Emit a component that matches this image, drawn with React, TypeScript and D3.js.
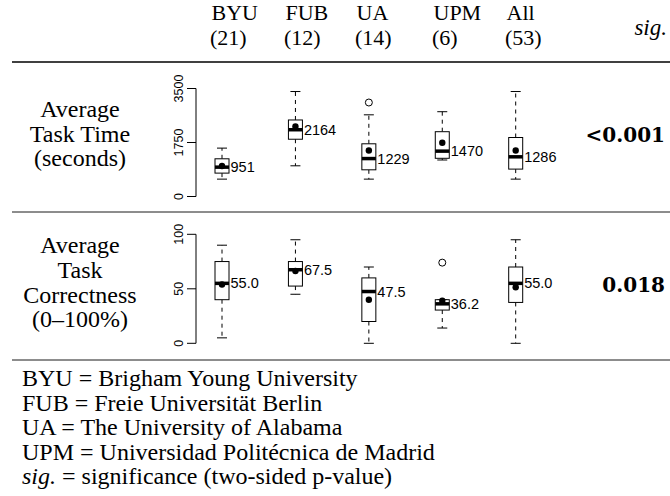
import React, { useEffect } from "react";
import * as d3 from "d3";

// Sites and sample sizes
const sites = ["BYU", "FUB", "UA", "UPM", "All"];
const siteCounts = ["(21)", "(12)", "(14)", "(6)", "(53)"];

// Average task time (seconds): five-number summaries, means, outliers
const timeLow = [563, 995, 563, 1183, 563];
const timeQ1 = [758, 1856, 865, 1238, 888];
const timeMedian = [951, 2164, 1229, 1470, 1286];
const timeQ3 = [1222, 2480, 1708, 2100, 1912];
const timeHigh = [1568, 3402, 2647, 2748, 3402];
const timeMean = [990, 2268, 1490, 1743, 1490];
const timeOutliers = [[], [], [3046], [], []];
const timeTicks = [0, 1750, 3500];
const timeSig = "<0.001";

// Average task correctness (0-100%)
const corrLow = [5, 45, 0, 14, 0];
const corrQ1 = [40, 52.5, 20, 30.5, 37.5];
const corrMedian = [55.0, 67.5, 47.5, 36.2, 55.0];
const corrQ3 = [75, 75, 60, 40, 70];
const corrHigh = [90, 95, 70, 40, 95];
const corrMean = [54, 66.3, 40, 39, 51.4];
const corrOutliers = [[], [], [], [74], []];
const corrTicks = [0, 50, 100];
const corrSig = "0.018";

const legendLines = [
  "BYU = Brigham Young University",
  "FUB = Freie Universität Berlin",
  "UA = The University of Alabama",
  "UPM = Universidad Politécnica de Madrid",
];

const W = 670;
const H = 496;
const SERIF = "'Liberation Serif', 'Times New Roman', serif";
const SANS = "'Liberation Sans', Arial, Helvetica, sans-serif";

const headerX = [210, 284, 355, 432, 505];
const axisX = 196;

const x = d3.scalePoint<string>().domain(sites).range([222, 515.7]);
const yTime = d3.scaleLinear().domain([0, 3500]).range([196.5, 88.5]);
const yCorr = d3.scaleLinear().domain([0, 100]).range([343.3, 234.3]);

type Panel = {
  y: d3.ScaleLinear<number, number>;
  low: number[];
  q1: number[];
  med: number[];
  q3: number[];
  high: number[];
  mean: number[];
  out: number[][];
  ticks: number[];
  fmt: (n: number) => string;
};

function Axis({ y, ticks }: { y: d3.ScaleLinear<number, number>; ticks: number[] }) {
  const [lo, hi] = d3.extent(ticks) as [number, number];
  return (
    <g>
      <line x1={axisX} x2={axisX} y1={y(lo)} y2={y(hi)} stroke="#000" strokeWidth={1} />
      {ticks.map((t) => (
        <g key={t}>
          <line x1={axisX - 9} x2={axisX} y1={y(t)} y2={y(t)} stroke="#000" strokeWidth={1} />
          <text
            transform={`translate(${axisX - 13},${y(t)}) rotate(-90)`}
            textAnchor="middle"
            fontFamily={SANS}
            fontSize={12.5}
          >
            {t}
          </text>
        </g>
      ))}
    </g>
  );
}

function Boxes({ p }: { p: Panel }) {
  const hw = 7;
  const cap = 5;
  return (
    <g>
      {sites.map((s, i) => {
        const cx = x(s) as number;
        const { y } = p;
        return (
          <g key={s}>
            <line x1={cx} x2={cx} y1={y(p.q3[i])} y2={y(p.high[i])} stroke="#000" strokeDasharray="4 4" />
            <line x1={cx} x2={cx} y1={y(p.q1[i])} y2={y(p.low[i])} stroke="#000" strokeDasharray="4 4" />
            <line x1={cx - cap} x2={cx + cap} y1={y(p.high[i])} y2={y(p.high[i])} stroke="#000" />
            <line x1={cx - cap} x2={cx + cap} y1={y(p.low[i])} y2={y(p.low[i])} stroke="#000" />
            <rect
              x={cx - hw}
              y={y(p.q3[i])}
              width={hw * 2}
              height={y(p.q1[i]) - y(p.q3[i])}
              fill="#fff"
              stroke="#000"
              strokeWidth={1}
            />
            <line x1={cx - hw} x2={cx + hw} y1={y(p.med[i])} y2={y(p.med[i])} stroke="#000" strokeWidth={3.5} />
            <circle cx={cx} cy={y(p.mean[i])} r={3.2} fill="#000" />
            {p.out[i].map((o, k) => (
              <circle key={k} cx={cx} cy={y(o)} r={3.5} fill="none" stroke="#000" strokeWidth={1} />
            ))}
            <text
              x={cx + hw + 1.5}
              y={y(p.med[i])}
              dominantBaseline="central"
              fontFamily={SANS}
              fontSize={14.5}
            >
              {p.fmt(p.med[i])}
            </text>
          </g>
        );
      })}
    </g>
  );
}

export default function App() {
  useEffect(() => {
    document.body.style.margin = "0";
  }, []);

  const timePanel: Panel = {
    y: yTime,
    low: timeLow,
    q1: timeQ1,
    med: timeMedian,
    q3: timeQ3,
    high: timeHigh,
    mean: timeMean,
    out: timeOutliers,
    ticks: timeTicks,
    fmt: d3.format(".0f"),
  };
  const corrPanel: Panel = {
    y: yCorr,
    low: corrLow,
    q1: corrQ1,
    med: corrMedian,
    q3: corrQ3,
    high: corrHigh,
    mean: corrMean,
    out: corrOutliers,
    ticks: corrTicks,
    fmt: d3.format(".1f"),
  };

  const rowLabel = (lines: string[], baseline: number) =>
    lines.map((l, i) => (
      <text key={l} x={80} y={baseline + i * 24.7} textAnchor="middle" fontFamily={SERIF} fontSize={24}>
        {l}
      </text>
    ));

  return (
    <svg
      width={W}
      height={H}
      viewBox={`0 0 ${W} ${H}`}
      style={{ display: "block", position: "absolute", left: 0, top: 0, background: "#fff" }}
    >
      <rect width={W} height={H} fill="#fff" />

      {/* column header */}
      {sites.map((s, i) => (
        <g key={s}>
          <text x={headerX[i] + 1.5} y={20} fontFamily={SERIF} fontSize={22}>
            {s}
          </text>
          <text x={headerX[i]} y={45} fontFamily={SERIF} fontSize={22}>
            {siteCounts[i]}
          </text>
        </g>
      ))}
      <text x={667} y={35} textAnchor="end" fontFamily={SERIF} fontStyle="italic" fontSize={23}>
        sig.
      </text>

      {/* rules */}
      <line x1={12} x2={670} y1={62} y2={62} stroke="#000" strokeWidth={1.3} />
      <line x1={12} x2={670} y1={212} y2={212} stroke="#000" strokeWidth={0.9} />
      <line x1={12} x2={670} y1={360} y2={360} stroke="#000" strokeWidth={0.9} />

      {/* task time row */}
      {rowLabel(["Average", "Task Time", "(seconds)"], 117)}
      <Axis y={yTime} ticks={timeTicks} />
      <Boxes p={timePanel} />
      <text x={665} y={142} textAnchor="end" fontFamily="'DejaVu Serif', serif" fontWeight="bold" fontSize={20}>
        {timeSig}
      </text>

      {/* correctness row */}
      {rowLabel(["Average", "Task", "Correctness", "(0–100%)"], 253.3)}
      <Axis y={yCorr} ticks={corrTicks} />
      <Boxes p={corrPanel} />
      <text x={665} y={291.5} textAnchor="end" fontFamily="'DejaVu Serif', serif" fontWeight="bold" fontSize={20}>
        {corrSig}
      </text>

      {/* legend */}
      {legendLines.map((l, i) => (
        <text key={l} x={22} y={386 + i * 24.5} fontFamily={SERIF} fontSize={24}>
          {l}
        </text>
      ))}
      <text x={22} y={386 + 4 * 24.5} fontFamily={SERIF} fontSize={24}>
        <tspan fontStyle="italic">sig.</tspan>
        <tspan> = significance (two-sided p-value)</tspan>
      </text>
    </svg>
  );
}
